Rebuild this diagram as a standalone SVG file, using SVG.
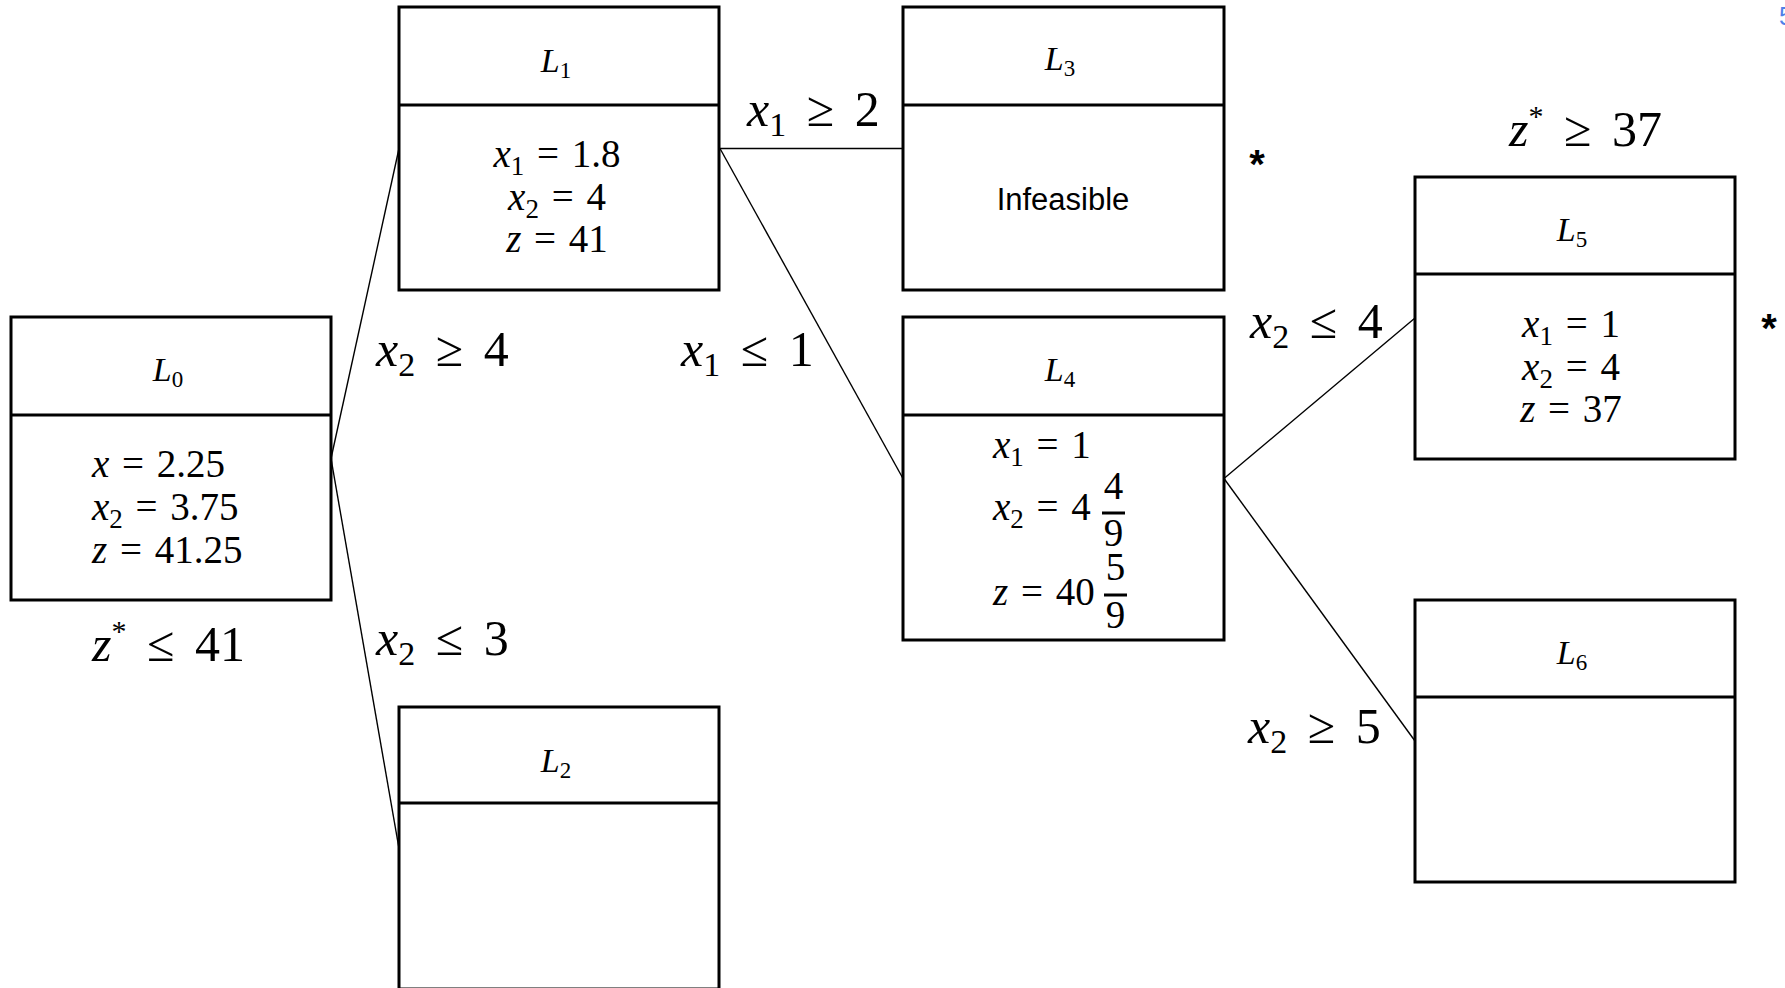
<svg xmlns="http://www.w3.org/2000/svg" width="1785" height="988" viewBox="0 0 1785 988">
<style>
.box{fill:#fff;stroke:#000;stroke-width:3}
.dv{stroke:#000;stroke-width:3}
.conn{stroke:#000;stroke-width:1.4;fill:none}
.m{font-family:"Liberation Serif","Times New Roman",serif;fill:#000}
.hd{font-size:34px}
.bd{font-size:39px}
.lb{font-size:50px}
.i{font-style:italic}
.fr{stroke:#000;stroke-width:3}
.sans{font-family:"Liberation Sans",Arial,sans-serif;fill:#000}
</style>
<rect x="0" y="0" width="1785" height="988" fill="#fff"/>

<g id="connectors">
<line class="conn" x1="331" y1="458.5" x2="399" y2="148.5"/>
<line class="conn" x1="331" y1="458.5" x2="399" y2="848.5"/>
<line class="conn" x1="720" y1="148.5" x2="903" y2="148.5"/>
<line class="conn" x1="720" y1="148.5" x2="903" y2="478.5"/>
<line class="conn" x1="1224" y1="478.5" x2="1415" y2="318"/>
<line class="conn" x1="1224" y1="478.5" x2="1415" y2="741"/>
</g>

<g id="L0">
<rect class="box" x="11" y="317" width="320" height="283"/>
<line class="dv" x1="11" y1="415" x2="331" y2="415"/>
<text class="m hd" x="168" y="381" text-anchor="middle"><tspan class="i">L</tspan><tspan font-size="23" dy="6">0</tspan></text>
<text class="m bd" x="92" y="477"><tspan class="i">x</tspan><tspan dx="3">&#160;=</tspan><tspan dx="3">&#160;2.25</tspan></text>
<text class="m bd" x="92" y="520"><tspan class="i">x</tspan><tspan font-size="27" dy="8">2</tspan><tspan dy="-8" dx="3">&#160;=</tspan><tspan dx="3">&#160;3.75</tspan></text>
<text class="m bd" x="92" y="563"><tspan class="i">z</tspan><tspan dx="3">&#160;=</tspan><tspan dx="3">&#160;41.25</tspan></text>
</g>

<g id="L1">
<rect class="box" x="399" y="7" width="320" height="283"/>
<line class="dv" x1="399" y1="105" x2="719" y2="105"/>
<text class="m hd" x="556" y="72" text-anchor="middle"><tspan class="i">L</tspan><tspan font-size="23" dy="6">1</tspan></text>
<text class="m bd" x="557" y="167" text-anchor="middle"><tspan class="i">x</tspan><tspan font-size="27" dy="8">1</tspan><tspan dy="-8" dx="3">&#160;=</tspan><tspan dx="3">&#160;1.8</tspan></text>
<text class="m bd" x="557" y="210" text-anchor="middle"><tspan class="i">x</tspan><tspan font-size="27" dy="8">2</tspan><tspan dy="-8" dx="3">&#160;=</tspan><tspan dx="3">&#160;4</tspan></text>
<text class="m bd" x="557" y="252" text-anchor="middle"><tspan class="i">z</tspan><tspan dx="3">&#160;=</tspan><tspan dx="3">&#160;41</tspan></text>
</g>

<g id="L2">
<rect class="box" x="399" y="707" width="320" height="282"/>
<line class="dv" x1="399" y1="803" x2="719" y2="803"/>
<text class="m hd" x="556" y="772" text-anchor="middle"><tspan class="i">L</tspan><tspan font-size="23" dy="6">2</tspan></text>
</g>

<g id="L3">
<rect class="box" x="903" y="7" width="321" height="283"/>
<line class="dv" x1="903" y1="105" x2="1224" y2="105"/>
<text class="m hd" x="1060" y="70" text-anchor="middle"><tspan class="i">L</tspan><tspan font-size="23" dy="6">3</tspan></text>
<text class="sans" x="1063" y="210" font-size="31" text-anchor="middle">Infeasible</text>
</g>

<g id="L4">
<rect class="box" x="903" y="317" width="321" height="323"/>
<line class="dv" x1="903" y1="415" x2="1224" y2="415"/>
<text class="m hd" x="1060" y="381" text-anchor="middle"><tspan class="i">L</tspan><tspan font-size="23" dy="6">4</tspan></text>
<text class="m bd" x="993" y="458"><tspan class="i">x</tspan><tspan font-size="27" dy="8">1</tspan><tspan dy="-8" dx="3">&#160;=</tspan><tspan dx="3">&#160;1</tspan></text>
<text class="m bd" x="993" y="520"><tspan class="i">x</tspan><tspan font-size="27" dy="8">2</tspan><tspan dy="-8" dx="3">&#160;=</tspan><tspan dx="3">&#160;4</tspan></text>
<line class="fr" x1="1102" y1="513" x2="1125" y2="513"/>
<text class="m bd" x="1113.5" y="499" text-anchor="middle">4</text>
<text class="m bd" x="1113.5" y="546" text-anchor="middle">9</text>
<text class="m bd" x="993" y="605"><tspan class="i">z</tspan><tspan dx="3">&#160;=</tspan><tspan dx="3">&#160;40</tspan></text>
<line class="fr" x1="1104" y1="595" x2="1127" y2="595"/>
<text class="m bd" x="1115.5" y="580" text-anchor="middle">5</text>
<text class="m bd" x="1115.5" y="628" text-anchor="middle">9</text>
</g>

<g id="L5">
<rect class="box" x="1415" y="177" width="320" height="282"/>
<line class="dv" x1="1415" y1="274" x2="1735" y2="274"/>
<text class="m hd" x="1572" y="241" text-anchor="middle"><tspan class="i">L</tspan><tspan font-size="23" dy="6">5</tspan></text>
<text class="m bd" x="1571" y="337" text-anchor="middle"><tspan class="i">x</tspan><tspan font-size="27" dy="8">1</tspan><tspan dy="-8" dx="3">&#160;=</tspan><tspan dx="3">&#160;1</tspan></text>
<text class="m bd" x="1571" y="380" text-anchor="middle"><tspan class="i">x</tspan><tspan font-size="27" dy="8">2</tspan><tspan dy="-8" dx="3">&#160;=</tspan><tspan dx="3">&#160;4</tspan></text>
<text class="m bd" x="1571" y="422" text-anchor="middle"><tspan class="i">z</tspan><tspan dx="3">&#160;=</tspan><tspan dx="3">&#160;37</tspan></text>
</g>

<g id="L6">
<rect class="box" x="1415" y="600" width="320" height="282"/>
<line class="dv" x1="1415" y1="697" x2="1735" y2="697"/>
<text class="m hd" x="1572" y="664" text-anchor="middle"><tspan class="i">L</tspan><tspan font-size="23" dy="6">6</tspan></text>
</g>

<g id="labels">
<text class="m lb" x="376" y="366"><tspan class="i">x</tspan><tspan font-size="34" dy="10">2</tspan><tspan dy="-10" dx="8">&#160;≥</tspan><tspan dx="8">&#160;4</tspan></text>
<text class="m lb" x="681" y="366"><tspan class="i">x</tspan><tspan font-size="34" dy="10">1</tspan><tspan dy="-10" dx="8">&#160;≤</tspan><tspan dx="8">&#160;1</tspan></text>
<text class="m lb" x="747" y="126"><tspan class="i">x</tspan><tspan font-size="34" dy="10">1</tspan><tspan dy="-10" dx="8">&#160;≥</tspan><tspan dx="8">&#160;2</tspan></text>
<text class="m lb" x="376" y="655"><tspan class="i">x</tspan><tspan font-size="34" dy="10">2</tspan><tspan dy="-10" dx="8">&#160;≤</tspan><tspan dx="8">&#160;3</tspan></text>
<text class="m lb" x="92" y="661"><tspan class="i">z</tspan><tspan font-size="30" dy="-20">*</tspan><tspan dy="20" dx="8">&#160;≤</tspan><tspan dx="8">&#160;41</tspan></text>
<text class="m lb" x="1509" y="146"><tspan class="i">z</tspan><tspan font-size="30" dy="-20">*</tspan><tspan dy="20" dx="8">&#160;≥</tspan><tspan dx="8">&#160;37</tspan></text>
<text class="m lb" x="1250" y="338"><tspan class="i">x</tspan><tspan font-size="34" dy="10">2</tspan><tspan dy="-10" dx="8">&#160;≤</tspan><tspan dx="8">&#160;4</tspan></text>
<text class="m lb" x="1248" y="743"><tspan class="i">x</tspan><tspan font-size="34" dy="10">2</tspan><tspan dy="-10" dx="8">&#160;≥</tspan><tspan dx="8">&#160;5</tspan></text>
<text class="sans" x="1257" y="178" font-size="40" font-weight="bold" text-anchor="middle">*</text>
<text class="sans" x="1769" y="342" font-size="40" font-weight="bold" text-anchor="middle">*</text>
<text class="sans" x="1779" y="25" font-size="25" style="fill:#4f7fe8">5</text>
</g>
</svg>
